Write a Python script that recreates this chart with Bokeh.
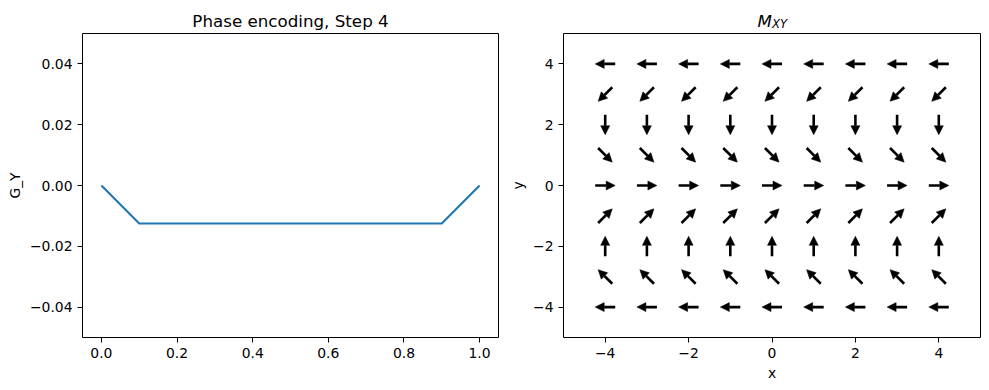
from bokeh.plotting import figure
from bokeh.layouts import row, column
from bokeh.models import (ColumnDataSource, Range1d, FixedTicker, CustomJSTickFormatter,
                          Label, Arrow, NormalHead)
from bokeh.embed import file_html
from bokeh.resources import INLINE

# ---------------- data ----------------
gy_time = [0.0, 0.1, 0.9, 1.0]
gy_values = [0.0, -0.0125, -0.0125, 0.0]

gy_xticks = [0.0, 0.2, 0.4, 0.6, 0.8, 1.0]
gy_xlabels = ["0.0", "0.2", "0.4", "0.6", "0.8", "1.0"]
gy_yticks = [-0.04, -0.02, 0.0, 0.02, 0.04]
gy_ylabels = ["\u22120.04", "\u22120.02", "0.00", "0.02", "0.04"]

mxy_x = [-4, -3, -2, -1, 0, 1, 2, 3, 4]
mxy_y = [-4, -3, -2, -1, 0, 1, 2, 3, 4]
# arrow direction of each row (y = -4 .. 4)
mxy_u = [-1.0, -0.707, 0.0, 0.707, 1.0, 0.707, 0.0, -0.707, -1.0]
mxy_v = [0.0, 0.707, 1.0, 0.707, 0.0, -0.707, -1.0, -0.707, 0.0]

mxy_ticks = [-4, -2, 0, 2, 4]
mxy_labels = ["\u22124", "\u22122", "0", "2", "4"]

FONT = "DejaVu Sans"
TICK_PX = "13.9px"
TITLE_PX = "16.7px"

FMT = """
let best = 0, bd = Infinity;
for (let i = 0; i < tv.length; i++) {
  const d = Math.abs(tv[i] - tick);
  if (d < bd) { bd = d; best = i; }
}
return tl[best];
"""


def style(p, xt, xl, yt, yl):
    p.xgrid.visible = False
    p.ygrid.visible = False
    p.outline_line_color = "black"
    p.outline_line_width = 1
    for ax, t, l in ((p.xaxis[0], xt, xl), (p.yaxis[0], yt, yl)):
        ax.ticker = FixedTicker(ticks=t)
        ax.formatter = CustomJSTickFormatter(args=dict(tv=t, tl=l), code=FMT)
        ax.axis_line_color = None
        ax.major_tick_in = 0
        ax.major_tick_out = 5
        ax.major_tick_line_color = "black"
        ax.minor_tick_line_color = None
        ax.major_label_text_font = FONT
        ax.major_label_text_font_size = TICK_PX
        ax.major_label_text_color = "black"
        ax.major_label_standoff = 5
        ax.axis_label_text_font = FONT
        ax.axis_label_text_font_size = TICK_PX
        ax.axis_label_text_font_style = "normal"
        ax.axis_label_text_color = "black"


FW1, FH = 416, 304
FW2 = 417
B1L, B1R = 82, 2
B2L, B2R = 63, 1
TOP_H = 31

# ---------------- left panel ----------------
p1 = figure(frame_width=FW1, frame_height=FH, output_backend="svg", toolbar_location=None,
            x_range=Range1d(-0.05, 1.05), y_range=Range1d(-0.05, 0.05),
            min_border_left=B1L, min_border_right=B1R, min_border_top=2, min_border_bottom=45)
p1.line(gy_time, gy_values, line_color="#1f77b4", line_width=2.1)
style(p1, gy_xticks, gy_xlabels, gy_yticks, gy_ylabels)
p1.yaxis.axis_label = "G_Y"
p1.yaxis.axis_label_standoff = 4

# ---------------- right panel ----------------
xr = Range1d(-5, 5)
yr = Range1d(-5, 5)
p2 = figure(frame_width=FW2, frame_height=FH, output_backend="svg", toolbar_location=None,
            x_range=xr, y_range=yr,
            min_border_left=B2L, min_border_right=B2R, min_border_top=2, min_border_bottom=45)
style(p2, mxy_ticks, mxy_labels, mxy_ticks, mxy_labels)
p2.xaxis.axis_label = "x"
p2.yaxis.axis_label = "y"
p2.xaxis.axis_label_standoff = 4
p2.yaxis.axis_label_standoff = 4

# arrows: centered on grid points, 20 px long in screen space
half_px = 10.0
ppx = FW2 / (xr.end - xr.start)
ppy = FH / (yr.end - yr.start)
xs0, ys0, xs1, ys1 = [], [], [], []
for j, yv in enumerate(mxy_y):
    for xv in mxy_x:
        dx = mxy_u[j] * half_px / ppx
        dy = mxy_v[j] * half_px / ppy
        xs0.append(xv - dx)
        ys0.append(yv - dy)
        xs1.append(xv + dx)
        ys1.append(yv + dy)
src = ColumnDataSource(dict(x0=xs0, y0=ys0, x1=xs1, y1=ys1))
p2.add_layout(Arrow(x_start="x0", y_start="y0", x_end="x1", y_end="y1", source=src,
                    line_color="black", line_width=2.6,
                    end=NormalHead(size=9, fill_color="black", line_color="black",
                                   line_width=0.5)))

# ---------------- titles strip ----------------
TW = B1L + FW1 + B1R + B2L + FW2 + B2R
pt = figure(width=TW, height=TOP_H, output_backend="svg", toolbar_location=None,
            x_axis_type=None, y_axis_type=None, min_border=0,
            x_range=Range1d(0, 1), y_range=Range1d(0, 1))
pt.outline_line_color = None
pt.xgrid.visible = False
pt.ygrid.visible = False
c1 = B1L + FW1 / 2
c2 = B1L + FW1 + B1R + B2L + FW2 / 2
base = 11
pt.add_layout(Label(x=c1, y=base, x_units="screen", y_units="screen",
                    text="Phase encoding, Step 4", text_align="center",
                    text_baseline="alphabetic", text_font=FONT,
                    text_font_size=TITLE_PX, text_color="black"))
pt.add_layout(Label(x=c2, y=base, x_units="screen", y_units="screen",
                    text="M", text_align="right", text_baseline="alphabetic",
                    text_font=FONT, text_font_style="italic",
                    text_font_size=TITLE_PX, text_color="black"))
pt.add_layout(Label(x=c2, y=base - 3.5, x_units="screen", y_units="screen",
                    text="XY", text_align="left", text_baseline="alphabetic",
                    text_font=FONT, text_font_style="italic",
                    text_font_size="11.7px", text_color="black"))

layout = column(pt, row(p1, p2))
open("out.html", "w").write(file_html(layout, INLINE))
